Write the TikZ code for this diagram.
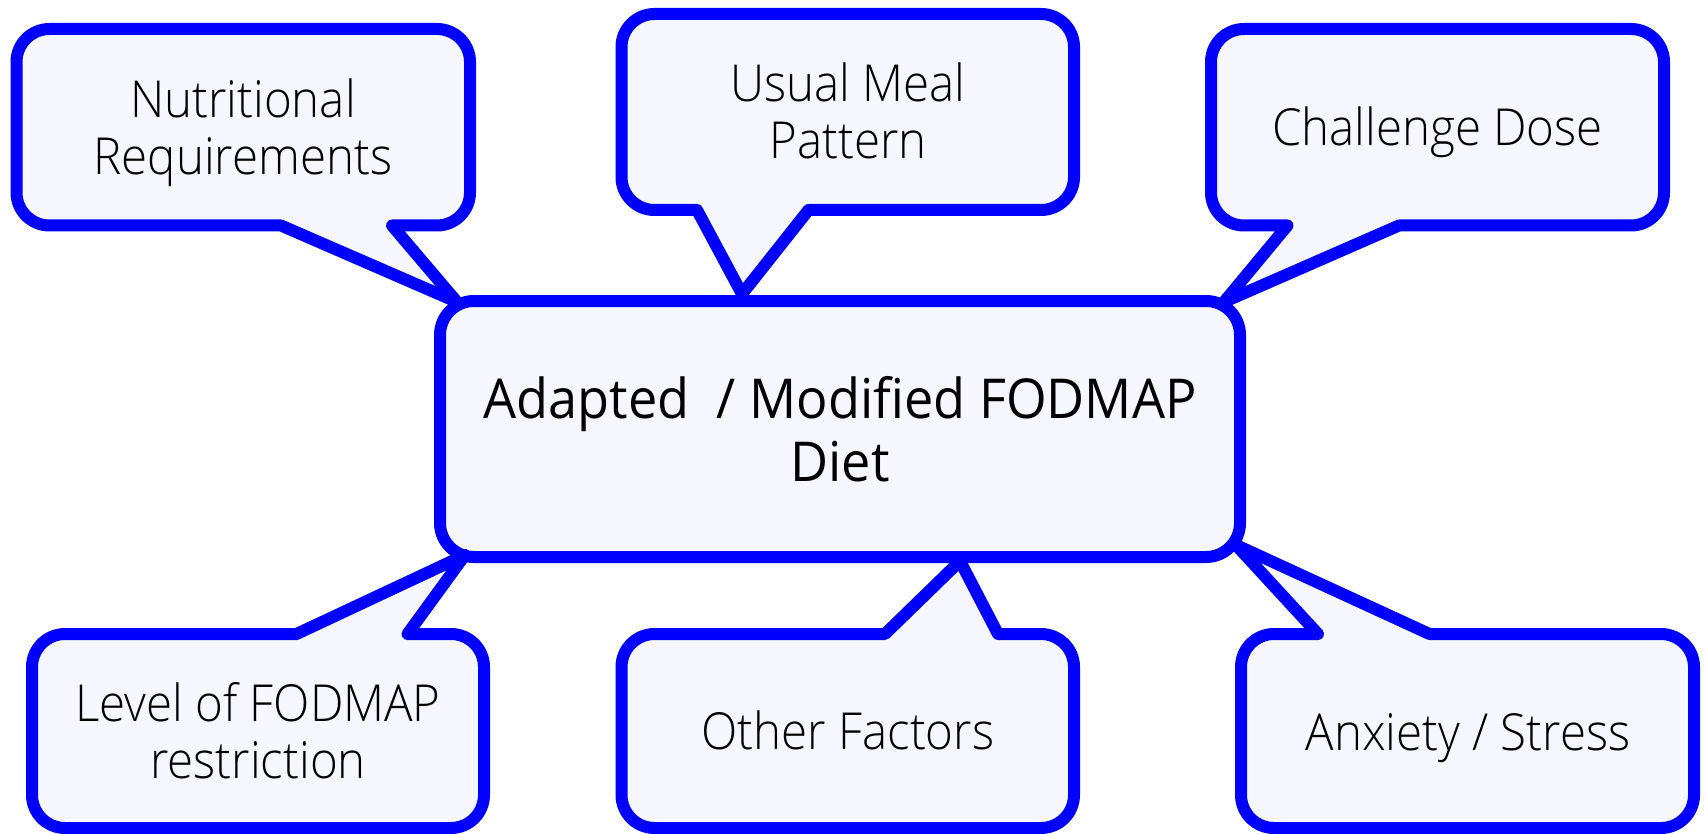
\documentclass[tikz,border=0pt]{standalone}
\usepackage{fontspec}
\setmainfont{Open Sans}[FakeStretch=0.95]
\newfontfamily\lightfont{Open Sans Light}[FakeStretch=0.93]

\definecolor{bubblefill}{RGB}{246,247,254}
\definecolor{bubbleline}{RGB}{0,0,255}

\tikzset{
  bubble/.style={draw=bubbleline, fill=bubblefill, line width=12pt, line join=round},
  bubbletext/.style={font=\lightfont\fontsize{51}{57}\selectfont, align=center, text=black, inner sep=0pt},
  hubtext/.style={font=\fontsize{55}{63}\selectfont, align=center, text=black}
}

% Rounded box x1,y1 (top-left) to x2,y2 (bottom-right), tail on the bottom edge:
% #5 = left base, #6 = right base, #7 = tip coordinate
\newcommand\bubbledown[7]{%
  \draw[bubble] ({#1+33},#2) -- ({#3-33},#2)
    .. controls ({#3-14.8},#2) and (#3,{#2+14.8}) .. (#3,{#2+33})
    -- (#3,{#4-33})
    .. controls (#3,{#4-14.8}) and ({#3-14.8},#4) .. ({#3-33},#4)
    -- (#6,#4) -- (#7) -- (#5,#4) -- ({#1+33},#4)
    .. controls ({#1+14.8},#4) and (#1,{#4-14.8}) .. (#1,{#4-33})
    -- (#1,{#2+33})
    .. controls (#1,{#2+14.8}) and ({#1+14.8},#2) .. ({#1+33},#2) -- cycle;}

% Same box with the tail on the top edge
\newcommand\bubbleup[7]{%
  \draw[bubble] ({#1+33},#2) -- (#5,#2) -- (#7) -- (#6,#2) -- ({#3-33},#2)
    .. controls ({#3-14.8},#2) and (#3,{#2+14.8}) .. (#3,{#2+33})
    -- (#3,{#4-33})
    .. controls (#3,{#4-14.8}) and ({#3-14.8},#4) .. ({#3-33},#4)
    -- ({#1+33},#4)
    .. controls ({#1+14.8},#4) and (#1,{#4-14.8}) .. (#1,{#4-33})
    -- (#1,{#2+33})
    .. controls (#1,{#2+14.8}) and ({#1+14.8},#2) .. ({#1+33},#2) -- cycle;}

\begin{document}
\begin{tikzpicture}[x=1pt, y=-1pt]
\useasboundingbox (0,0) rectangle (1704,834);

% central box
\node[bubble, rounded corners=34pt, minimum width=800pt, minimum height=256pt,
      inner sep=0pt, hubtext] (hub) at (840,429)
  {Adapted\ \ / Modified FODMAP\\Diet};

% tail tips resting on the central box
\coordinate (tipNR) at (457,302);
\coordinate (tipUM) at (742,294);
\coordinate (tipCD) at (1224,302);
\coordinate (tipLF) at (465,555);
\coordinate (tipOF) at (960,561);
\coordinate (tipAS) at (1236,545);

% upper callouts
\bubbledown{16.5}{29}{470}{225.5}{281}{392}{tipNR}
\bubbledown{621.5}{14}{1074}{210}{697}{808.5}{tipUM}
\bubbledown{1211}{29}{1664}{225.5}{1287.5}{1399}{tipCD}

% lower callouts
\bubbleup{32}{634}{484}{828}{296.5}{407.5}{tipLF}
\bubbleup{621.5}{634}{1074}{828}{885}{998}{tipOF}
\bubbleup{1241}{634}{1694}{828}{1318}{1429.5}{tipAS}

% callout texts
\node[bubbletext] (nr) at (243,133) {Nutritional\\Requirements};
\node[bubbletext] (um) at (848,111) {Usual Meal\\Pattern};
\node[bubbletext] (cd) at (1437.5,132.5) {Challenge Dose};
\node[bubbletext] (lf) at (258,731) {Level of FODMAP\\restriction};
\node[bubbletext] (of) at (848,730.5) {Other Factors};
\node[bubbletext] (as) at (1468,738) {Anxiety / Stress};
\end{tikzpicture}
\end{document}
